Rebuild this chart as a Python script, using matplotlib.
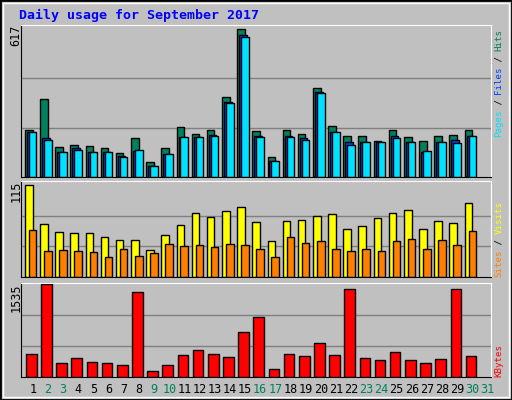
import matplotlib
matplotlib.use("Agg")
import matplotlib.pyplot as plt
from matplotlib.patches import Rectangle

days = list(range(1, 32))
hits = [198,324,127,135,131,123,102,161,64,123,207,181,194,332,617,190,85,194,181,370,211,169,169,152,194,165,152,169,177,194]
files = [186,161,106,119,106,106,89,110,47,98,165,165,177,311,592,173,68,169,161,353,186,148,148,148,169,144,106,148,156,169]
pages = [186,156,106,114,106,106,85,114,47,98,165,165,173,307,583,165,68,165,156,349,186,135,148,148,161,144,110,148,140,169]
visits = [115,66,56,55,55,50,46,46,34,52,65,80,75,82,87,69,45,70,71,76,79,60,64,74,80,84,60,70,67,92]
sites = [59,32,34,32,31,25,35,26,30,41,39,40,37,41,40,35,25,50,42,45,35,32,35,32,45,47,35,46,40,57]
kbytes = [375,1535,224,308,241,224,207,1400,106,207,359,443,375,325,745,997,140,375,342,560,359,1451,308,275,409,275,224,291,1451,342]
weekend = [2,3,9,10,16,17,23,24,30,31]
title = "Daily usage for September 2017"

W, H = 512, 400
fig = plt.figure(figsize=(W/100, H/100), dpi=100)
fig.patch.set_facecolor("#C0C0C0")
fig.patches.append(Rectangle((0, 0), 1, 1, transform=fig.transFigure, fill=False, edgecolor="black", lw=2))
fig.patches.append(Rectangle((3/W, 3/H), 1-6/W, 1-6/H, transform=fig.transFigure, fill=False, edgecolor="white", lw=1))

mono = "DejaVu Sans Mono"
def ax_at(x0, y0, x1, y1):
    ax = fig.add_axes([x0/W, 1-y1/H, (x1-x0)/W, (y1-y0)/H])
    ax.set_facecolor("#C0C0C0")
    ax.set_xlim(0, 31)
    ax.set_xticks([]); ax.set_yticks([])
    ax.spines['top'].set_color('white'); ax.spines['right'].set_color('white')
    ax.spines['left'].set_color('black'); ax.spines['bottom'].set_color('black')
    return ax

x = list(range(30))
ec = dict(edgecolor="black", linewidth=1, align="edge")

ax1 = ax_at(20.7, 25, 490.7, 177)
ax1.set_ylim(0, 634)
for g in (617/3, 2*617/3):
    ax1.axhline(g, color="#808080", lw=1, zorder=0)
ax1.bar([i+0.28 for i in x], hits, width=0.5, color="#00805C", **ec)
ax1.bar([i+0.41 for i in x], files, width=0.5, color="#0040FF", **ec)
ax1.bar([i+0.54 for i in x], pages, width=0.5, color="#00E0FF", **ec)

ax2 = ax_at(20.7, 181, 490.7, 277)
ax2.set_ylim(0, 120)
for g in (115/3, 2*115/3):
    ax2.axhline(g, color="#808080", lw=1, zorder=0)
ax2.bar([i+0.28 for i in x], visits, width=0.5, color="#FFFF00", **ec)
ax2.bar([i+0.54 for i in x], sites, width=0.5, color="#FF8000", **ec)

ax3 = ax_at(20.7, 283, 490.7, 377)
ax3.set_ylim(0, 1557)
for g in (1535/3, 2*1535/3):
    ax3.axhline(g, color="#808080", lw=1, zorder=0)
ax3.bar([i+0.35 for i in x], kbytes, width=0.7, color="#FF0000", **ec)

for i, d in enumerate(days):
    ax3.text(i+0.8, -0.13, str(d), transform=ax3.get_xaxis_transform(), ha="center", va="center",
             fontsize=8.5, family=mono, color="#00805C" if d in weekend else "black")

fig.text(19/W, 1-15/H, title, fontsize=9.5, family=mono, fontweight="bold", color="#0000FF", va="center", ha="left")
for ypix, lab in ((25, "617"), (181, "115"), (283, "1535")):
    fig.text(16/W, 1-ypix/H, lab, rotation=90, ha="center", va="top", fontsize=8.5, family=mono)

STEP = 5.35
def vlabel_up(parts, ybottom):
    y = 1 - ybottom/H
    for txt, col in parts:
        fig.text(499/W, y, txt, rotation=90, ha="center", va="bottom", fontsize=6.6, family=mono, color=col)
        y += (len(txt) * STEP) / H
vlabel_up([("Pages", "#00E0FF"), (" / ", "black"), ("Files", "#0040FF"), (" / ", "black"), ("Hits", "#00805C")], 137)
vlabel_up([("Sites", "#FF8000"), (" / ", "black"), ("Visits", "#FFFF00")], 277)
vlabel_up([("KBytes", "#FF0000")], 377)

fig.savefig("out.png", dpi=100, facecolor=fig.get_facecolor())
